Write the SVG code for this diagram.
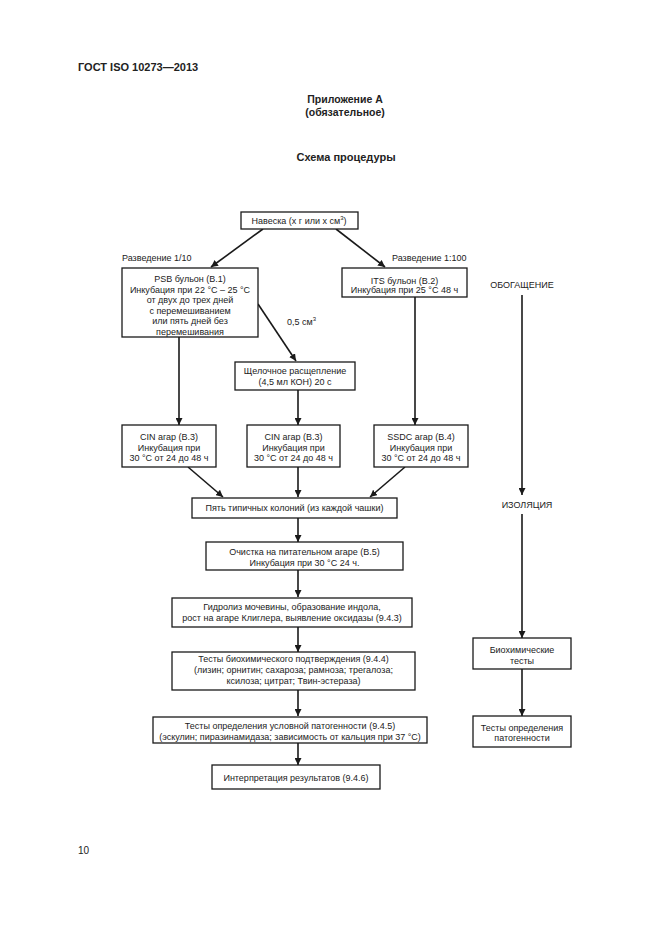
<svg xmlns="http://www.w3.org/2000/svg" width="661" height="935" viewBox="0 0 661 935">
<defs>
<style>
text{font-family:"Liberation Sans",Arial,sans-serif;fill:#222;font-size:9px}
.c{text-anchor:middle}
.h{font-weight:bold;font-size:11px}
.p{font-weight:bold;font-size:10.5px}
.t{font-weight:bold;font-size:11px}
rect{fill:#fff;stroke:#1a1a1a;stroke-width:1.3}
.e path,.e line{stroke:#1a1a1a;stroke-width:1.6;fill:none}
</style>
<marker id="a" viewBox="0 0 10 10" refX="10" refY="5" markerWidth="7" markerHeight="7" markerUnits="userSpaceOnUse" orient="auto">
<path d="M0,0 L10,5 L0,10 Z" fill="#1a1a1a"/>
</marker>
</defs>
<rect x="0" y="0" width="661" height="935" style="fill:#fff;stroke:none"/>
<text x="78" y="71" class="h">ГОСТ ISO 10273—2013</text>
<text x="345" y="103" class="c p">Приложение А</text>
<text x="345" y="115.5" class="c p">(обязательное)</text>
<text x="346" y="161" class="c t">Схема процедуры</text>
<text x="78" y="854" style="font-size:10px">10</text>

<g id="edges" class="e">
<line x1="263" y1="229" x2="211" y2="267" marker-end="url(#a)"/>
<line x1="336" y1="229" x2="385" y2="267" marker-end="url(#a)"/>
<line x1="179" y1="337" x2="179" y2="425" marker-end="url(#a)"/>
<line x1="258" y1="304" x2="296" y2="361" marker-end="url(#a)"/>
<line x1="298" y1="390" x2="298" y2="425" marker-end="url(#a)"/>
<line x1="415" y1="297" x2="415" y2="425" marker-end="url(#a)"/>
<line x1="188" y1="467" x2="223" y2="497" marker-end="url(#a)"/>
<line x1="298" y1="467" x2="298" y2="497" marker-end="url(#a)"/>
<line x1="405" y1="467" x2="370" y2="497" marker-end="url(#a)"/>
<line x1="298" y1="518" x2="298" y2="542" marker-end="url(#a)"/>
<line x1="298" y1="570" x2="298" y2="597" marker-end="url(#a)"/>
<line x1="298" y1="627" x2="298" y2="652" marker-end="url(#a)"/>
<line x1="298" y1="690" x2="298" y2="716" marker-end="url(#a)"/>
<line x1="298" y1="743" x2="298" y2="765" marker-end="url(#a)"/>
<line x1="522" y1="295" x2="522" y2="495" marker-end="url(#a)"/>
<line x1="522" y1="514" x2="522" y2="638" marker-end="url(#a)"/>
<line x1="522" y1="669" x2="522" y2="716" marker-end="url(#a)"/>
</g>

<text x="122" y="261">Разведение 1/10</text>
<text x="392" y="261">Разведение 1:100</text>
<text x="287" y="325">0,5 см<tspan dy="-4" style="font-size:6px">3</tspan></text>
<text x="522" y="288" class="c">ОБОГАЩЕНИЕ</text>
<text x="527" y="508" class="c">ИЗОЛЯЦИЯ</text>

<g id="n1">
<rect x="241" y="212" width="117" height="17"/>
<text x="299" y="224" class="c">Навеска (х г или х см<tspan dy="-4" style="font-size:6px">3</tspan><tspan dy="4">)</tspan></text>
</g>
<g id="n2">
<rect x="122" y="268" width="136" height="69"/>
<text x="190" y="282" class="c">PSB бульон (В.1)</text>
<text x="190" y="292.5" class="c">Инкубация при 22 °С – 25 °С</text>
<text x="190" y="303" class="c">от двух до трех дней</text>
<text x="190" y="313.5" class="c">с перемешиванием</text>
<text x="190" y="324" class="c">или пять дней без</text>
<text x="190" y="334.5" class="c">перемешивания</text>
</g>
<g id="n3">
<rect x="342" y="268" width="125" height="29"/>
<text x="404.5" y="283.5" class="c">ITS бульон (В.2)</text>
<text x="404.5" y="293" class="c">Инкубация при 25 °С 48 ч</text>
</g>
<g id="n4">
<rect x="235" y="362" width="120" height="28"/>
<text x="295" y="373.5" class="c">Щелочное расщепление</text>
<text x="295" y="385" class="c">(4,5 мл КОН) 20 с</text>
</g>
<g id="n5">
<rect x="122" y="425" width="94" height="42"/>
<text x="169" y="440" class="c">CIN агар (В.3)</text>
<text x="169" y="450.5" class="c">Инкубация при</text>
<text x="169" y="461" class="c">30 °С от 24 до 48 ч</text>
</g>
<g id="n6">
<rect x="247" y="425" width="93" height="42"/>
<text x="293.5" y="440" class="c">CIN агар (В.3)</text>
<text x="293.5" y="450.5" class="c">Инкубация при</text>
<text x="293.5" y="461" class="c">30 °С от 24 до 48 ч</text>
</g>
<g id="n7">
<rect x="374" y="425" width="94" height="42"/>
<text x="421" y="440" class="c">SSDC агар (В.4)</text>
<text x="421" y="450.5" class="c">Инкубация при</text>
<text x="421" y="461" class="c">30 °С от 24 до 48 ч</text>
</g>
<g id="n8">
<rect x="192" y="498" width="205" height="20"/>
<text x="294.5" y="511" class="c">Пять типичных колоний (из каждой чашки)</text>
</g>
<g id="n9">
<rect x="206" y="542" width="197" height="28"/>
<text x="304.5" y="555" class="c">Очистка на питательном агаре (В.5)</text>
<text x="304.5" y="566" class="c">Инкубация при 30 °С 24 ч.</text>
</g>
<g id="n10">
<rect x="172" y="598" width="240" height="29"/>
<text x="292" y="609.5" class="c">Гидролиз мочевины, образование индола,</text>
<text x="292" y="620.5" class="c">рост на агаре Клиглера, выявление оксидазы (9.4.3)</text>
</g>
<g id="n11">
<rect x="172" y="652" width="243" height="38"/>
<text x="293.5" y="661.5" class="c">Тесты биохимического подтверждения (9.4.4)</text>
<text x="293.5" y="672.5" class="c">(лизин; орнитин; сахароза; рамноза; трегалоза;</text>
<text x="293.5" y="683.5" class="c">ксилоза; цитрат; Твин-эстераза)</text>
</g>
<g id="n12">
<rect x="153" y="717" width="274" height="26"/>
<text x="290" y="728.5" class="c">Тесты определения условной патогенности (9.4.5)</text>
<text x="290" y="739.5" class="c">(эскулин; пиразинамидаза; зависимость от кальция при 37 °С)</text>
</g>
<g id="n13">
<rect x="212" y="765" width="168" height="24"/>
<text x="296" y="781" class="c">Интерпретация результатов (9.4.6)</text>
</g>
<g id="n14">
<rect x="473" y="638" width="98" height="31"/>
<text x="522" y="652.5" class="c">Биохимические</text>
<text x="522" y="663.5" class="c">тесты</text>
</g>
<g id="n15">
<rect x="473" y="716" width="98" height="31"/>
<text x="522" y="730.5" class="c">Тесты определения</text>
<text x="522" y="741" class="c">патогенности</text>
</g>
</svg>
